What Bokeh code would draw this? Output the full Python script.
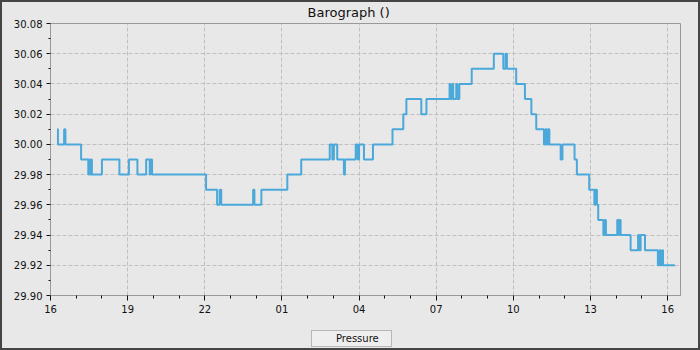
import datetime as dt
from bokeh.plotting import figure
from bokeh.models import (FixedTicker, DatetimeTickFormatter, Legend, LegendItem,
                          NumeralTickFormatter, Range1d)
from bokeh.layouts import column
from bokeh.embed import file_html
from bokeh.resources import INLINE

# ---- data -------------------------------------------------------------
start = dt.datetime(2024, 3, 15, 16, 0)
hours = [0.26, 0.29, 0.53, 0.58, 1.19, 1.47, 1.50, 1.54, 1.58, 1.61, 2.00, 2.68,
         3.05, 3.38, 3.72, 3.86, 3.90, 3.95, 6.05, 6.48, 6.58, 6.64, 7.88, 7.93,
         8.20, 9.21, 9.75, 10.86, 10.96, 11.02, 11.15, 11.41, 11.45, 11.87, 11.95,
         12.00, 12.19, 12.54, 13.30, 13.72, 13.84, 14.42, 14.62, 15.52, 15.56,
         15.62, 15.66, 15.78, 15.82, 15.90, 16.38, 17.24, 17.61, 17.70, 17.75,
         18.11, 18.45, 18.70, 18.89, 19.19, 19.25, 19.30, 19.35, 19.40, 19.84,
         19.91, 20.38, 20.47, 20.95, 21.15, 21.20, 21.25, 21.30, 21.50, 21.55,
         21.60, 22.04, 22.10, 22.13, 22.17, 22.56, 22.85, 22.90, 22.95, 23.12,
         23.62, 23.68, 23.72, 23.78, 23.82, 24.28]
pressure = [30.01, 30.00, 30.01, 30.00, 29.99, 29.98, 29.99, 29.98, 29.99, 29.98,
            29.99, 29.98, 29.99, 29.98, 29.99, 29.98, 29.99, 29.98, 29.97, 29.96,
            29.97, 29.96, 29.97, 29.96, 29.97, 29.98, 29.99, 30.00, 29.99, 30.00,
            29.99, 29.98, 29.99, 30.00, 29.99, 30.00, 29.99, 30.00, 30.01, 30.02,
            30.03, 30.02, 30.03, 30.04, 30.03, 30.04, 30.03, 30.04, 30.03, 30.04,
            30.05, 30.06, 30.05, 30.06, 30.05, 30.04, 30.03, 30.02, 30.01, 30.00,
            30.01, 30.00, 30.01, 30.00, 29.99, 30.00, 29.99, 29.98, 29.97, 29.96,
            29.97, 29.96, 29.95, 29.94, 29.95, 29.94, 29.95, 29.94, 29.95, 29.94,
            29.93, 29.94, 29.93, 29.94, 29.93, 29.92, 29.93, 29.92, 29.93, 29.92,
            29.92]
x_tick_hours = [0, 3, 6, 9, 12, 15, 18, 21, 24]
y_ticks = [29.90, 29.92, 29.94, 29.96, 29.98, 30.00, 30.02, 30.04, 30.06, 30.08]
y_minor = [29.91, 29.93, 29.95, 29.97, 29.99, 30.01, 30.03, 30.05, 30.07]
title_text = "Barograph ()"
series_name = "Pressure"

# ---- helpers ----------------------------------------------------------
epoch = dt.datetime(1970, 1, 1)
def to_ms(h):
    return ((start + dt.timedelta(hours=h)) - epoch).total_seconds() * 1000.0

times = [start + dt.timedelta(hours=h) for h in hours]

BG = "#e8e8e8"
LINE = "#4aa8db"
FONT = "DejaVu Sans"
W = 696

# ---- main plot --------------------------------------------------------
p = figure(width=W, height=323, x_axis_type="datetime",
           output_backend="svg", toolbar_location=None, frame_align=False,
           x_range=Range1d(to_ms(0), to_ms(24.5)),
           y_range=Range1d(29.90, 30.08),
           min_border_left=48, min_border_right=18,
           min_border_top=21, min_border_bottom=30)
p.background_fill_color = BG
p.border_fill_color = BG
p.outline_line_color = "#999999"
p.outline_line_width = 1

p.title.text = title_text
p.title.text_font = FONT
p.title.text_font_size = "13px"
p.title.text_font_style = "normal"
p.title.text_color = "#111111"
p.title.align = "left"
p.title.vertical_align = "top"
p.title.offset = 257
p.title.standoff = 4

r = p.step(times, pressure, mode="after", line_color=LINE, line_width=2)

major_x = [to_ms(h) for h in x_tick_hours]
minor_x = [to_ms(h) for h in range(0, 25) if h not in x_tick_hours]
p.xaxis.ticker = FixedTicker(ticks=major_x, minor_ticks=minor_x)
fmt = "%H"
p.xaxis.formatter = DatetimeTickFormatter(
    milliseconds=fmt, seconds=fmt, minsec=fmt, minutes=fmt, hourmin=fmt,
    hours=fmt, days=fmt, months=fmt, years=fmt, context=None)
p.yaxis.ticker = FixedTicker(ticks=y_ticks, minor_ticks=y_minor)
p.yaxis.formatter = NumeralTickFormatter(format="0.00")

for ax in (p.xaxis, p.yaxis):
    ax.axis_line_color = "#999999"
    ax.major_tick_line_color = "#111111"
    ax.minor_tick_line_color = "#111111"
    ax.major_tick_in = 0
    ax.minor_tick_in = 0
    ax.major_label_text_font = FONT
    ax.major_label_text_font_size = "10px"
    ax.major_label_text_color = "#111111"
    ax.major_label_standoff = 4
p.xaxis.major_tick_out = 5
p.xaxis.minor_tick_out = 3
p.yaxis.major_tick_out = 4
p.yaxis.minor_tick_out = 2

for g in (p.xgrid, p.ygrid):
    g.grid_line_color = "#c0c0c0"
    g.grid_line_dash = "4 2"
    g.grid_line_width = 1

# ---- legend strip -----------------------------------------------------
pl = figure(width=W, height=23, title=None, output_backend="svg",
            toolbar_location=None, frame_align=False,
            x_range=Range1d(0, 1), y_range=Range1d(0, 1),
            x_axis_location=None, y_axis_location=None,
            min_border_left=0, min_border_right=0,
            min_border_top=0, min_border_bottom=0)
pl.center = []
pl.background_fill_color = BG
pl.border_fill_color = BG
pl.outline_line_color = None
proxy = pl.line(x=[], y=[], line_color=LINE, line_width=2)
legend = Legend(items=[LegendItem(label=series_name, renderers=[proxy])],
                location=(309, 1), orientation="horizontal",
                label_text_font=FONT, label_text_font_size="10px",
                label_text_color="#111111",
                glyph_width=12, glyph_height=10, label_height=10,
                label_width=53, label_standoff=10, padding=2, margin=0,
                border_line_color="#808080", background_fill_color="#eeeeee",
                background_fill_alpha=1)
pl.add_layout(legend)

layout = column(p, pl, spacing=0,
                styles={"background-color": BG, "border": "2px solid #454545"})

open("out.html", "w").write(file_html(layout, INLINE))
